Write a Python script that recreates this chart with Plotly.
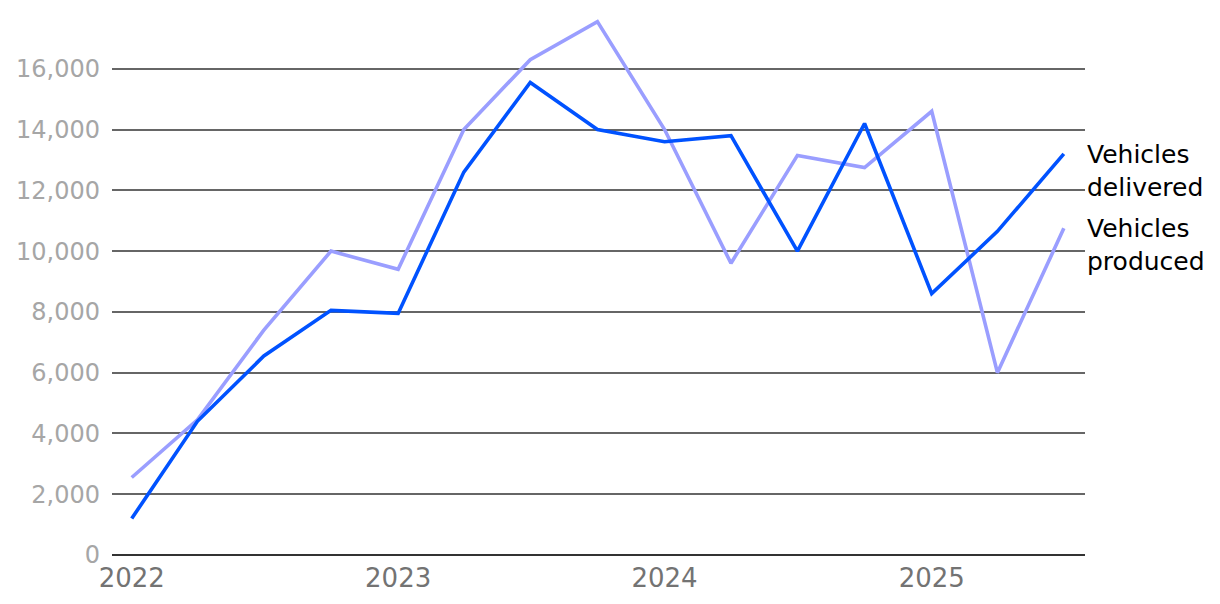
import plotly.graph_objects as go

quarters = ["2022-01-01", "2022-04-01", "2022-07-01", "2022-10-01",
            "2023-01-01", "2023-04-01", "2023-07-01", "2023-10-01",
            "2024-01-01", "2024-04-01", "2024-07-01", "2024-10-01",
            "2025-01-01", "2025-04-01", "2025-07-01"]
delivered = [1200, 4400, 6550, 8050, 7950, 12600, 15550, 14000,
             13600, 13800, 10000, 14200, 8600, 10650, 13200]
produced = [2550, 4450, 7400, 10000, 9400, 14000, 16300, 17550,
            14000, 9600, 13150, 12750, 14600, 6000, 10750]
year_ticks = ["2022-01-01", "2023-01-01", "2024-01-01", "2025-01-01"]
year_labels = ["2022", "2023", "2024", "2025"]
y_ticks = [0, 2000, 4000, 6000, 8000, 10000, 12000, 14000, 16000]

FONT = "DejaVu Sans"

fig = go.Figure()
fig.add_trace(go.Scatter(x=quarters, y=produced, mode="lines", name="Vehicles produced",
                         line=dict(color="#9a9eff", width=3.6)))
fig.add_trace(go.Scatter(x=quarters, y=delivered, mode="lines", name="Vehicles delivered",
                         line=dict(color="#0052ff", width=3.6)))

fig.add_annotation(x=1, xref="paper", y=12650, yref="y", xanchor="left", yanchor="middle",
                   text="Vehicles<br>delivered", showarrow=False, align="left",
                   font=dict(family=FONT, size=25, color="#000"))
fig.add_annotation(x=1, xref="paper", y=10200, yref="y", xanchor="left", yanchor="middle",
                   text="Vehicles<br>produced", showarrow=False, align="left",
                   font=dict(family=FONT, size=25, color="#000"))

fig.update_layout(
    width=1204, height=588,
    margin=dict(l=104, r=127, t=0, b=41),
    plot_bgcolor="white", paper_bgcolor="white",
    showlegend=False,
    font=dict(family=FONT),
    xaxis=dict(type="date", range=["2021-12-05", "2025-07-30"],
               tickvals=year_ticks, ticktext=year_labels,
               showgrid=False, zeroline=False, showline=False, ticks="",
               ticklabelstandoff=5,
               tickfont=dict(size=26, color="#737373")),
    yaxis=dict(range=[0, 18000], tickvals=y_ticks, tickformat=",",
               showgrid=True, gridcolor="#666666", gridwidth=1.6,
               zeroline=True, zerolinecolor="#333333", zerolinewidth=2,
               showline=False, ticks="", ticklabelstandoff=11,
               tickfont=dict(size=24, color="#a6a6a6")),
)

fig.write_html("out.html")
